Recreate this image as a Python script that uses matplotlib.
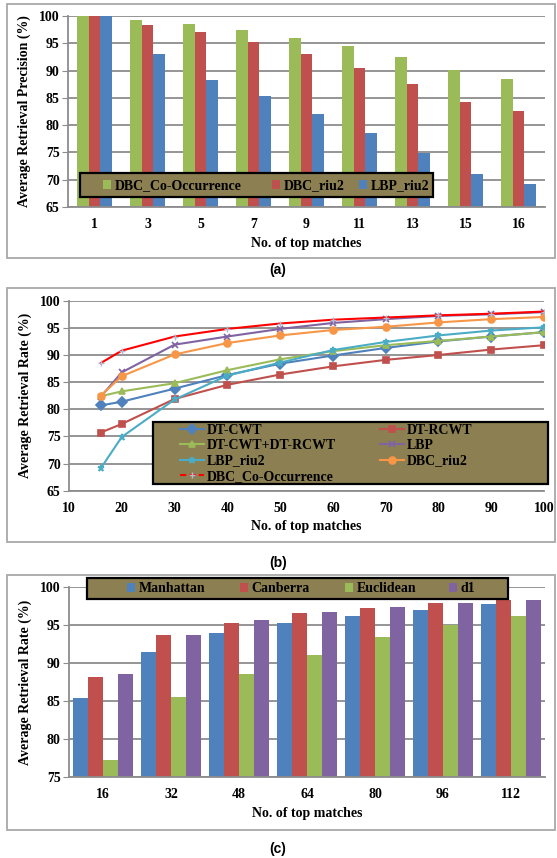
import matplotlib.pyplot as plt
from matplotlib.patches import Rectangle
from matplotlib.lines import Line2D
import numpy as np

plt.rcParams['font.family'] = ['Liberation Serif', 'DejaVu Serif']
plt.rcParams['font.weight'] = 'bold'

# ---- data (a) ----
top_a = ['1', '3', '5', '7', '9', '11', '13', '15', '16']
dbc_co_a = [100, 99.3, 98.5, 97.4, 96.0, 94.5, 92.4, 90.1, 88.5]
dbc_riu2_a = [100, 98.4, 97.0, 95.3, 93.0, 90.4, 87.5, 84.2, 82.5]
lbp_riu2_a = [100, 93.0, 88.2, 85.3, 82.1, 78.5, 74.9, 71.1, 69.2]

# ---- data (b) ----
top_b = [16, 20, 30, 40, 50, 60, 70, 80, 90, 100]
dt_cwt = [80.7, 81.4, 83.8, 86.3, 88.4, 89.9, 91.3, 92.5, 93.4, 94.2]
dt_rcwt = [75.7, 77.3, 81.9, 84.5, 86.4, 87.9, 89.1, 90.0, 91.0, 91.8]
dt_both = [82.4, 83.3, 84.8, 87.2, 89.2, 90.7, 91.8, 92.6, 93.4, 94.2]
lbp = [82.3, 86.8, 91.9, 93.4, 94.8, 95.9, 96.6, 97.2, 97.5, 97.9]
lbp_riu2 = [69.1, 74.9, 81.8, 86.2, 88.6, 90.9, 92.4, 93.6, 94.5, 95.1]
dbc_riu2 = [82.5, 86.1, 90.1, 92.2, 93.6, 94.6, 95.2, 96.0, 96.6, 97.0]
dbc_co = [88.5, 90.8, 93.4, 94.8, 95.8, 96.5, 96.9, 97.3, 97.6, 98.0]

# ---- data (c) ----
top_c = ['16', '32', '48', '64', '80', '96', '112']
manhattan = [85.4, 91.5, 93.9, 95.2, 96.2, 97.0, 97.7]
canberra = [88.2, 93.6, 95.3, 96.5, 97.2, 97.8, 98.2]
euclidean = [77.3, 85.5, 88.5, 91.0, 93.4, 95.0, 96.1]
d1 = [88.5, 93.7, 95.6, 96.7, 97.3, 97.9, 98.3]

BLUE, RED, GREEN, PURPLE = '#4F81BD', '#C0504D', '#9BBB59', '#8064A2'
CYAN, ORANGE = '#4BACC6', '#F79646'
LEG_BG = '#8c7f52'
GRID = '#8c8c8c'
FS = 10
W, H = 557, 858

fig = plt.figure(figsize=(W / 100, H / 100), dpi=100)


def px_axes(left, right, top, bottom):
    return fig.add_axes([left / W, 1 - bottom / H, (right - left) / W, (bottom - top) / H])


def frame(top, bottom):
    fig.patches.append(Rectangle((7 / W, 1 - bottom / H), 548 / W, (bottom - top) / H,
                                 transform=fig.transFigure, fill=False,
                                 edgecolor='#a8a8a8', linewidth=1.3))


def legend_bg(left, right, top, bottom):
    fig.patches.append(Rectangle((left / W, 1 - bottom / H), (right - left) / W, (bottom - top) / H,
                                 transform=fig.transFigure, facecolor=LEG_BG,
                                 edgecolor='black', linewidth=1.6, zorder=3))


def entry(handle, label, x, y, hl=0.6, hh=0.6):
    # one legend entry, handle starting at pixel x, centred on pixel y
    fig.legend([handle], [label], loc='center left', bbox_to_anchor=(x / W, 1 - y / H),
               bbox_transform=fig.transFigure, frameon=False, borderpad=0, borderaxespad=0,
               fontsize=FS, handlelength=hl, handleheight=hh, handletextpad=0.25)


def style(ax, ylo, yhi, ylabel):
    ax.set_ylim(ylo, yhi)
    ax.set_yticks(np.arange(ylo, yhi + 1, 5))
    ax.yaxis.grid(True, color=GRID, linewidth=1.3)
    ax.set_axisbelow(True)
    for s in ['top', 'right']:
        ax.spines[s].set_visible(False)
    for s in ['left', 'bottom']:
        ax.spines[s].set_color(GRID)
        ax.spines[s].set_linewidth(1.3)
    ax.tick_params(axis='y', length=4, color=GRID, labelsize=FS, pad=2)
    ax.tick_params(axis='x', length=0, labelsize=FS, pad=8)
    ax.set_ylabel(ylabel, fontsize=FS, fontweight='bold', labelpad=6)
    ax.set_xlabel('No. of top matches', fontsize=FS, fontweight='bold', labelpad=4)


def sq(c):
    return Rectangle((0, 0), 1, 1, facecolor=c)


# ---------------- (a) ----------------
frame(4, 258)
ax = px_axes(68, 545, 16, 207)
x = np.arange(len(top_a))
bw = 1 / 4.5
series_a = [(dbc_co_a, GREEN, 'DBC_Co-Occurrence'),
            (dbc_riu2_a, RED, 'DBC_riu2'),
            (lbp_riu2_a, BLUE, 'LBP_riu2')]
for i, (vals, c, lab) in enumerate(series_a):
    ax.bar(x + (i - 1) * bw, vals, bw, color=c, label=lab)
ax.set_xlim(-0.5, len(top_a) - 0.5)
ax.set_xticks(x)
ax.set_xticklabels(top_a)
style(ax, 65, 100, 'Average Retrieval Precision (%)')
legend_bg(80, 433, 173, 197)
for (vals, c, lab), xp in zip(series_a, [103, 272, 359]):
    entry(sq(c), lab, xp, 185.5)
fig.text(278 / W, 1 - 270 / H, '(a)', ha='center', va='center', fontsize=10,
         fontweight='bold', family='Liberation Sans')

# ---------------- (b) ----------------
frame(288, 542)
ax = px_axes(69, 544, 300.7, 490.7)
series_b = [(dt_cwt, BLUE, 'D', 'DT-CWT'),
            (dt_rcwt, RED, 's', 'DT-RCWT'),
            (dt_both, GREEN, '^', 'DT-CWT+DT-RCWT'),
            (lbp, PURPLE, 'x', 'LBP'),
            (lbp_riu2, CYAN, '*', 'LBP_riu2'),
            (dbc_riu2, ORANGE, 'o', 'DBC_riu2')]
handles = []
for vals, c, m, lab in series_b:
    h, = ax.plot(top_b, vals, color=c, marker=m, markersize=5, linewidth=1.5, label=lab,
                 markeredgewidth=1.2)
    handles.append(h)
ax.plot(top_b, dbc_co, color='red', marker='+', markersize=5, markeredgecolor='#b8b8d0',
        linewidth=1.5)
handles.append(Line2D([], [], color='red', linestyle=(0, (3, 1.5)), marker='+',
                      markeredgecolor='#b8b8d0', markersize=5, linewidth=1.5,
                      label='DBC_Co-Occurrence'))
ax.set_xlim(10, 100)
ax.set_xticks(np.arange(10, 101, 10))
style(ax, 65, 100, 'Average Retrieval Rate (%)')
legend_bg(153, 548, 422, 484)
rows = [430, 445.5, 461, 476.5]
pos_b = [(180, rows[0]), (380, rows[0]), (180, rows[1]), (380, rows[1]),
         (180, rows[2]), (380, rows[2]), (180, rows[3])]
for h, (xp, yp) in zip(handles, pos_b):
    entry(h, h.get_label(), xp, yp, hl=1.7, hh=0.7)
fig.text(278 / W, 1 - 563 / H, '(b)', ha='center', va='center', fontsize=10,
         fontweight='bold', family='Liberation Sans')

# ---------------- (c) ----------------
frame(575, 830)
ax = px_axes(69, 545, 586.7, 777.3)
x = np.arange(len(top_c))
bw = 1 / 4.6
series_c = [(manhattan, BLUE, 'Manhattan'),
            (canberra, RED, 'Canberra'),
            (euclidean, GREEN, 'Euclidean'),
            (d1, PURPLE, 'd1')]
for i, (vals, c, lab) in enumerate(series_c):
    ax.bar(x + (i - 1.5) * bw, vals, bw, color=c, label=lab)
ax.set_xlim(-0.5, len(top_c) - 0.5)
ax.set_xticks(x)
ax.set_xticklabels(top_c)
style(ax, 75, 100, 'Average Retrieval Rate (%)')
legend_bg(87, 508, 578, 599)
for (vals, c, lab), xp in zip(series_c, [127, 240, 345, 449]):
    entry(sq(c), lab, xp, 588.5)
fig.text(278 / W, 1 - 849 / H, '(c)', ha='center', va='center', fontsize=10,
         fontweight='bold', family='Liberation Sans')

fig.savefig('out.png', dpi=100, facecolor='white')
